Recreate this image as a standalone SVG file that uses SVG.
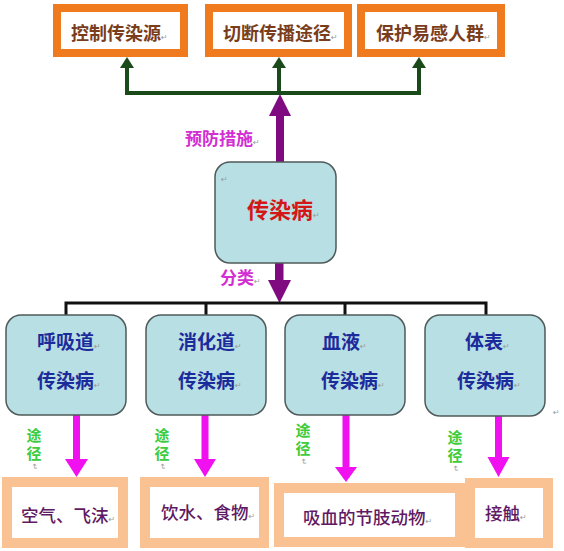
<svg xmlns="http://www.w3.org/2000/svg" width="564" height="551" viewBox="0 0 564 551">
<defs>
<style>
.cjk{font-family:"Noto Sans CJK SC","Noto Sans",sans-serif;}
.top{fill:#fff;stroke:#f07a1e;stroke-width:8;}
.toptxt{font-size:18px;font-weight:bold;fill:#7a3d1c;}
.teal{fill:#b8dfe3;stroke:#4f5a5a;stroke-width:1.5;}
.bluetxt{font-size:19px;font-weight:bold;fill:#1c2b9c;}
.bot{fill:#fff;stroke:#fac192;stroke-width:10;}
.bottxt{font-size:17.5px;fill:#5f1a63;font-weight:500;}
.lbl{font-size:17px;font-weight:bold;fill:#d22ed2;}
.way{font-size:15px;font-weight:bold;fill:#3ccc3c;letter-spacing:3px;}
.ret{font-family:"DejaVu Sans",sans-serif;font-size:8px;fill:#9a9a9a;font-weight:normal;letter-spacing:0;}
.green{stroke:#1a4a1a;stroke-width:4;fill:none;}
.gh{fill:#1a4a1a;}
.blk{stroke:#111;stroke-width:3;fill:none;}
.pur{fill:#800a80;}
.mag{fill:#f010f0;}
</style>
</defs>
<rect width="564" height="551" fill="#fff"/>

<g id="connectors">
  <path class="green" d="M127,67 V93 H419 V67 M279,93 V67"/>
  <polygon class="gh" points="120,68 134,68 127,57"/>
  <polygon class="gh" points="272,68 286,68 279,57"/>
  <polygon class="gh" points="412,68 426,68 419,57"/>
  <rect class="pur" x="276" y="113" width="8" height="50"/>
  <polygon class="pur" points="269,116 291,116 280,94"/>
  <rect class="pur" x="275" y="263" width="8.5" height="19"/>
  <polygon class="pur" points="268,280 291,280 279.5,303"/>
  <path class="blk" d="M66,315 V303 H486 V315 M206,303 V315 M345,303 V315"/>
  <rect class="mag" x="73" y="415" width="7" height="46"/>
  <polygon class="mag" points="65,459 88,459 76.5,477"/>
  <rect class="mag" x="201.5" y="415" width="7" height="46"/>
  <polygon class="mag" points="194,459 216,459 205,477"/>
  <rect class="mag" x="342.5" y="412" width="7" height="57"/>
  <polygon class="mag" points="335,467 357,467 346,482"/>
  <rect class="mag" x="495" y="415" width="7" height="44"/>
  <polygon class="mag" points="487.5,457 509.5,457 498.5,477"/>
  <text class="cjk lbl" x="185" y="145">预防措施<tspan class="ret">↵</tspan></text>
  <text class="cjk lbl" x="220" y="284">分类<tspan class="ret">↵</tspan></text>
  <text class="cjk way" writing-mode="vertical-rl" x="34" y="427.5">途径<tspan class="ret">↵</tspan></text>
  <text class="cjk way" writing-mode="vertical-rl" x="162" y="427.5">途径<tspan class="ret">↵</tspan></text>
  <text class="cjk way" writing-mode="vertical-rl" x="303" y="422.5">途径<tspan class="ret">↵</tspan></text>
  <text class="cjk way" writing-mode="vertical-rl" x="455" y="429.5">途径<tspan class="ret">↵</tspan></text>
</g>

<g id="top1">
  <rect class="top" x="57" y="8" width="127" height="45"/>
  <text class="cjk toptxt" x="71" y="40">控制传染源<tspan class="ret">↵</tspan></text>
</g>
<g id="top2">
  <rect class="top" x="209" y="8" width="139" height="45"/>
  <text class="cjk toptxt" x="223" y="40">切断传播途径<tspan class="ret">↵</tspan></text>
</g>
<g id="top3">
  <rect class="top" x="361" y="8" width="140" height="45"/>
  <text class="cjk toptxt" x="376" y="40">保护易感人群<tspan class="ret">↵</tspan></text>
</g>

<g id="center">
  <rect class="teal" x="215" y="162" width="121" height="101" rx="15"/>
  <text class="ret" x="221" y="182">↵</text>
  <text class="cjk" x="247" y="218" font-size="22" font-weight="bold" fill="#d41616">传染病<tspan class="ret">↵</tspan></text>
</g>

<g id="cat1">
  <rect class="teal" x="6" y="315" width="120" height="100" rx="15"/>
  <text class="cjk bluetxt" x="37" y="349">呼吸道<tspan class="ret">↵</tspan></text>
  <text class="cjk bluetxt" x="37" y="388">传染病<tspan class="ret">↵</tspan></text>
</g>
<g id="cat2">
  <rect class="teal" x="146" y="315" width="120" height="100" rx="15"/>
  <text class="cjk bluetxt" x="178" y="349">消化道<tspan class="ret">↵</tspan></text>
  <text class="cjk bluetxt" x="178" y="388">传染病<tspan class="ret">↵</tspan></text>
</g>
<g id="cat3">
  <rect class="teal" x="285" y="315" width="120" height="100" rx="15"/>
  <text class="cjk bluetxt" x="322" y="349">血液<tspan class="ret">↵</tspan></text>
  <text class="cjk bluetxt" x="321" y="388">传染病<tspan class="ret">↵</tspan></text>
</g>
<g id="cat4">
  <rect class="teal" x="425" y="315" width="120" height="101" rx="15"/>
  <text class="cjk bluetxt" x="465" y="349">体表<tspan class="ret">↵</tspan></text>
  <text class="cjk bluetxt" x="457" y="388">传染病<tspan class="ret">↵</tspan></text>
  <text class="ret" x="553" y="415">↵</text>
</g>

<g id="route1">
  <rect class="bot" x="7" y="482" width="116" height="61"/>
  <text class="cjk bottxt" x="21" y="522">空气、飞沫<tspan class="ret">↵</tspan></text>
</g>
<g id="route2">
  <rect class="bot" x="145" y="482" width="119" height="61"/>
  <text class="cjk bottxt" x="161" y="519">饮水、食物<tspan class="ret">↵</tspan></text>
</g>
<g id="route3">
  <rect class="bot" x="279" y="488" width="181" height="54"/>
  <text class="cjk bottxt" x="303" y="524" font-size="18.5">吸血的节肢动物<tspan class="ret">↵</tspan></text>
</g>
<g id="route4">
  <rect class="bot" x="470" y="483" width="78" height="60"/>
  <text class="cjk bottxt" x="485" y="520">接触<tspan class="ret">↵</tspan></text>
</g>
</svg>
